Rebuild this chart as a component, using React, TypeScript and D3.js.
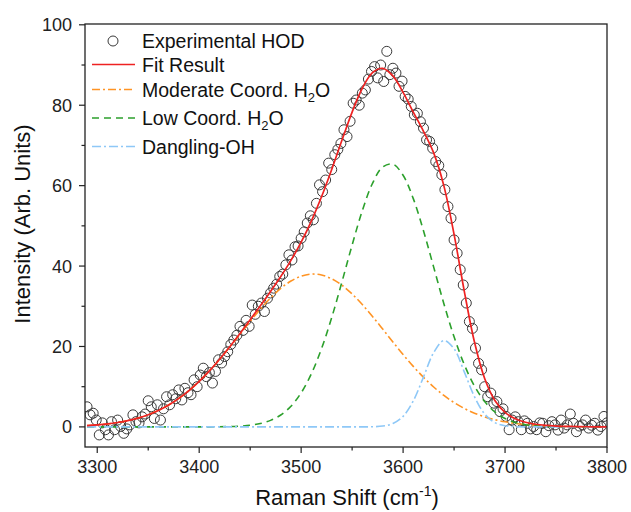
import React from 'react';
import * as d3 from 'd3';

const W = 631;
const H = 512;
const PLOT = { left: 85, right: 607, top: 24, bottom: 447 };

const xTicks = [3300, 3400, 3500, 3600, 3700, 3800];
const xMinorTicks = [3350, 3450, 3550, 3650, 3750];
const yTicks = [0, 20, 40, 60, 80, 100];
const yMinorTicks = [10, 30, 50, 70, 90];

// Experimental HOD spectrum (Raman shift, intensity)
const hodShift = [
  3290, 3293, 3296, 3299, 3302, 3305, 3308, 3311, 3314, 3317, 3320, 3323, 3326, 3329, 3332, 3335, 3338, 3341, 3344, 3347,
  3350, 3353, 3356, 3359, 3362, 3365, 3368, 3371, 3374, 3377, 3380, 3383, 3386, 3389, 3392, 3395, 3398, 3401, 3404, 3407,
  3410, 3413, 3416, 3419, 3422, 3425, 3428, 3431, 3434, 3437, 3440, 3443, 3446, 3449, 3452, 3455, 3458, 3461, 3464, 3467,
  3470, 3473, 3476, 3479, 3482, 3485, 3488, 3491, 3494, 3497, 3500, 3503, 3506, 3509, 3512, 3515, 3518, 3521, 3524, 3527,
  3530, 3533, 3536, 3539, 3542, 3545, 3548, 3551, 3554, 3557, 3560, 3563, 3566, 3569, 3572, 3575, 3578, 3581, 3584, 3587,
  3590, 3593, 3596, 3599, 3602, 3605, 3608, 3611, 3614, 3617, 3620, 3623, 3626, 3629, 3632, 3635, 3638, 3641, 3644, 3647,
  3650, 3653, 3656, 3659, 3662, 3665, 3668, 3671, 3674, 3677, 3680, 3683, 3686, 3689, 3692, 3695, 3698, 3701, 3704, 3707,
  3710, 3713, 3716, 3719, 3722, 3725, 3728, 3731, 3734, 3737, 3740, 3743, 3746, 3749, 3752, 3755, 3758, 3761, 3764, 3767,
  3770, 3773, 3776, 3779, 3782, 3785, 3788, 3791, 3794, 3797, 3800,
];
const hodIntensity = [
  5.0, 3.0, 3.4, 1.7, -2.0, 1.0, -0.7, -2.0, 1.3, -0.7, 1.7, 0.1, -1.6, -0.5, 0.5, 3.0, 1.3, 1.0, 2.5, 3.2,
  6.5, 5.0, 2.1, 5.5, 1.7, 4.5, 7.5, 5.5, 8.0, 7.0, 9.2, 6.7, 9.6, 8.5, 8.0, 11.7, 10.0, 12.9, 14.6, 12.5,
  13.5, 10.9, 13.8, 16.7, 15.9, 17.5, 18.7, 20.5, 21.6, 22.8, 25.0, 24.0, 26.5, 25.0, 30.3, 28.0, 30.0, 30.8, 28.7, 32.0,
  33.3, 34.5, 35.5, 37.4, 38.0, 40.3, 42.8, 41.5, 44.8, 45.0, 46.9, 48.5, 50.7, 52.5, 51.5, 55.6, 60.2, 58.5, 61.4, 65.6,
  64.0, 67.7, 69.0, 70.5, 73.9, 72.2, 76.0, 80.5, 81.3, 80.0, 83.0, 83.8, 86.5, 88.4, 89.6, 86.8, 90.0, 85.9, 93.4, 87.6,
  89.2, 88.0, 84.7, 86.0, 82.2, 81.5, 79.7, 77.6, 78.0, 75.9, 74.3, 71.4, 71.0, 69.3, 66.0, 65.0, 62.7, 59.0, 54.8, 51.9,
  46.5, 43.2, 39.1, 35.3, 30.8, 26.2, 24.5, 19.6, 15.8, 14.2, 10.0, 7.5, 8.4, 5.9, 6.3, 3.8, 4.5, 2.6, -0.7, 1.7,
  2.5, 1.3, -0.7, 1.5, 0.9, -0.5, 0.1, -0.7, 1.0, 0.9, -1.2, 0.3, 1.3, 0.5, -0.8, 1.7, -0.3, 0.5, 3.2, 0.9,
  -1.2, 0.2, 0.5, 1.7, -0.3, 0.4, 0.9, -0.8, 0.1, 2.6, 1.0,
];

const curveShift = [
  3290, 3300, 3310, 3320, 3330, 3340, 3350, 3360, 3370, 3380, 3390, 3400, 3410, 3420, 3430, 3440, 3450, 3460, 3470, 3480,
  3490, 3500, 3510, 3520, 3530, 3540, 3550, 3560, 3570, 3580, 3590, 3600, 3610, 3620, 3630, 3640, 3650, 3660, 3670, 3680,
  3690, 3700, 3710, 3720, 3730, 3740, 3750, 3760, 3770, 3780, 3790, 3800,
];
const fitResult = [
  0.33, 0.5, 0.74, 1.09, 1.56, 2.19, 3.02, 4.09, 5.43, 7.08, 9.04, 11.34, 13.94, 16.84, 19.95, 23.24, 26.64, 30.12, 33.68, 37.39,
  41.41, 45.94, 51.19, 57.23, 64.04, 71.27, 78.29, 84.22, 88.09, 89.18, 87.3, 83.2, 78.29, 73.52, 68.14, 59.95, 47.88, 33.78, 21.1, 12.03,
  6.58, 3.62, 2.03, 1.15, 0.65, 0.37, 0.21, 0.12, 0.07, 0.04, 0.02, 0.01,
];
const moderateCoord = [
  0.33, 0.5, 0.74, 1.09, 1.56, 2.19, 3.02, 4.09, 5.43, 7.08, 9.04, 11.33, 13.93, 16.8, 19.87, 23.05, 26.23, 29.28, 32.06, 34.43,
  36.27, 37.48, 38.0, 37.77, 36.83, 35.23, 33.06, 30.43, 27.47, 24.33, 21.13, 18.0, 15.05, 12.34, 9.92, 7.83, 6.05, 4.59, 3.42, 2.5,
  1.79, 1.26, 0.87, 0.59, 0.39, 0.25, 0.16, 0.1, 0.06, 0.04, 0.02, 0.01,
];
const lowCoord = [
  0, 0, 0, 0, 0, 0, 0, 0, 0, 0, 0, 0.01, 0.01, 0.04, 0.08, 0.19, 0.41, 0.84, 1.62, 2.96,
  5.14, 8.46, 13.19, 19.46, 27.21, 36.04, 45.23, 53.78, 60.58, 64.64, 65.34, 62.57, 56.77, 48.79, 39.73, 30.65, 22.4, 15.5, 10.17, 6.32,
  3.72, 2.08, 1.1, 0.55, 0.26, 0.12, 0.05, 0.02, 0.01, 0, 0, 0,
];
const danglingOH = [
  0, 0, 0, 0, 0, 0, 0, 0, 0, 0, 0, 0, 0, 0, 0, 0, 0, 0, 0, 0,
  0, 0, 0, 0, 0, 0, 0, 0.01, 0.04, 0.21, 0.83, 2.63, 6.47, 12.39, 18.49, 21.47, 19.43, 13.69, 7.51, 3.21,
  1.07, 0.28, 0.06, 0.01, 0, 0, 0, 0, 0, 0, 0, 0,
];

const FONT = '"Liberation Sans", Arial, Helvetica, sans-serif';
const AXIS_COLOR = '#222';

const seriesStyles = [
  { key: 'moderate', values: moderateCoord, color: '#ff9424', dash: '8,3,2,3' },
  { key: 'low', values: lowCoord, color: '#2ca02c', dash: '7,5' },
  { key: 'dangling', values: danglingOH, color: '#8ec8f7', dash: '9,3,2,3' },
];

export default function App() {
  const x = d3.scaleLinear().domain([3288, 3800]).range([PLOT.left, PLOT.right]);
  const y = d3.scaleLinear().domain([-5, 100.2]).range([PLOT.bottom, PLOT.top]);

  const line = d3
    .line<number>()
    .x((_, i) => x(curveShift[i]))
    .y((d) => y(d))
    .curve(d3.curveCatmullRom.alpha(0.5));

  const n = Math.min(hodShift.length, hodIntensity.length);
  const points = d3.range(n).map((i) => [hodShift[i], hodIntensity[i]]);

  const legendRows = [41, 64.5, 89.5, 118, 146.5];

  return (
    <svg
      width={W}
      height={H}
      style={{ position: 'absolute', left: 0, top: 0, background: '#fff' }}
      fontFamily={FONT}
    >
      <defs>
        <clipPath id="plotClip">
          <rect x={PLOT.left} y={PLOT.top} width={PLOT.right - PLOT.left} height={PLOT.bottom - PLOT.top} />
        </clipPath>
      </defs>
      <rect x={0} y={0} width={W} height={H} fill="#fff" />

      <g clipPath="url(#plotClip)">
        {points.map(([sx, sy], i) => (
          <circle key={i} cx={x(sx)} cy={y(sy)} r={5} fill="none" stroke="#3a3a3a" strokeWidth={1} />
        ))}
        {seriesStyles.map((s) => (
          <path
            key={s.key}
            d={line(s.values) || ''}
            fill="none"
            stroke={s.color}
            strokeWidth={1.6}
            strokeDasharray={s.dash}
          />
        ))}
        <path d={line(fitResult) || ''} fill="none" stroke="#ee2222" strokeWidth={1.7} />
      </g>

      {/* frame */}
      <rect
        x={PLOT.left}
        y={PLOT.top}
        width={PLOT.right - PLOT.left}
        height={PLOT.bottom - PLOT.top}
        fill="none"
        stroke={AXIS_COLOR}
        strokeWidth={1.3}
      />

      {/* x ticks */}
      {xTicks.map((t) => (
        <g key={'xt' + t}>
          <line x1={x(t)} x2={x(t)} y1={PLOT.bottom} y2={PLOT.bottom + 6} stroke={AXIS_COLOR} strokeWidth={1.2} />
          <text x={x(t)} y={472.5} textAnchor="middle" fontSize={18} fill="#222">
            {t}
          </text>
        </g>
      ))}
      {xMinorTicks.map((t) => (
        <line key={'xm' + t} x1={x(t)} x2={x(t)} y1={PLOT.bottom} y2={PLOT.bottom + 3.5} stroke={AXIS_COLOR} strokeWidth={1.2} />
      ))}

      {/* y ticks */}
      {yTicks.map((t) => (
        <g key={'yt' + t}>
          <line x1={PLOT.left - 6} x2={PLOT.left} y1={y(t)} y2={y(t)} stroke={AXIS_COLOR} strokeWidth={1.2} />
          <text x={72} y={y(t) + 6.5} textAnchor="end" fontSize={18} fill="#222">
            {t}
          </text>
        </g>
      ))}
      {yMinorTicks.map((t) => (
        <line key={'ym' + t} x1={PLOT.left - 3.5} x2={PLOT.left} y1={y(t)} y2={y(t)} stroke={AXIS_COLOR} strokeWidth={1.2} />
      ))}

      {/* axis titles */}
      <text x={347} y={505} textAnchor="middle" fontSize={22} fill="#111">
        Raman Shift (cm
        <tspan fontSize={14} dy={-9}>
          -1
        </tspan>
        <tspan dy={9}>)</tspan>
      </text>
      <text transform={`translate(30, 224) rotate(-90)`} textAnchor="middle" fontSize={22} fill="#111">
        Intensity (Arb. Units)
      </text>

      {/* legend */}
      <g fontSize={19.5} fill="#111">
        <circle cx={113} cy={legendRows[0]} r={5} fill="none" stroke="#3a3a3a" strokeWidth={1} />
        <text x={142} y={legendRows[0] + 7}>Experimental HOD</text>

        <line x1={92} x2={135} y1={legendRows[1]} y2={legendRows[1]} stroke="#ee2222" strokeWidth={1.7} />
        <text x={142} y={legendRows[1] + 7}>Fit Result</text>

        <line x1={92} x2={135} y1={legendRows[2]} y2={legendRows[2]} stroke="#ff9424" strokeWidth={1.6} strokeDasharray="8,3,2,3" />
        <text x={142} y={legendRows[2] + 7}>
          Moderate Coord. H
          <tspan fontSize={13} dy={5}>2</tspan>
          <tspan dy={-5}>O</tspan>
        </text>

        <line x1={92} x2={135} y1={legendRows[3]} y2={legendRows[3]} stroke="#2ca02c" strokeWidth={1.6} strokeDasharray="7,5" />
        <text x={142} y={legendRows[3] + 7}>
          Low Coord. H
          <tspan fontSize={13} dy={5}>2</tspan>
          <tspan dy={-5}>O</tspan>
        </text>

        <line x1={92} x2={135} y1={legendRows[4]} y2={legendRows[4]} stroke="#8ec8f7" strokeWidth={1.6} strokeDasharray="9,3,2,3" />
        <text x={142} y={legendRows[4] + 7}>Dangling-OH</text>
      </g>
    </svg>
  );
}
